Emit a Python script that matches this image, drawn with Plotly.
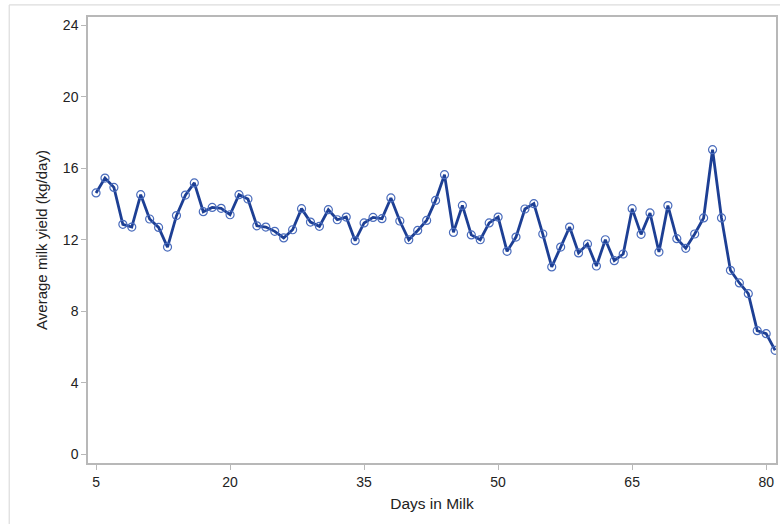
import plotly.graph_objects as go

days = list(range(5, 82))
milk_yield = [
    14.62, 15.45, 14.93, 12.86, 12.71, 14.52, 13.16, 12.69, 11.59, 13.35,
    14.50, 15.18, 13.57, 13.81, 13.76, 13.40, 14.52, 14.28, 12.78, 12.71,
    12.47, 12.10, 12.56, 13.74, 12.99, 12.75, 13.68, 13.12, 13.27, 11.95,
    12.94, 13.25, 13.18, 14.34, 13.05, 12.00, 12.52, 13.08, 14.20, 15.64,
    12.41, 13.92, 12.27, 12.00, 12.94, 13.27, 11.35, 12.15, 13.72, 14.02,
    12.32, 10.48, 11.59, 12.71, 11.26, 11.76, 10.53, 12.00, 10.83, 11.20,
    13.74, 12.30, 13.50, 11.31, 13.91, 12.06, 11.52, 12.32, 13.22, 17.04,
    13.22, 10.29, 9.58, 8.98, 6.91, 6.74, 5.81,
]
x_ticks = [5, 20, 35, 50, 65, 80]
y_ticks = [0, 4, 8, 12, 16, 20, 24]

LINE = "#1d3f94"
AXIS = "#b8b8b8"
FONT = "Liberation Sans, Arial, sans-serif"

fig = go.Figure()
fig.add_trace(go.Scatter(
    x=days, y=milk_yield, mode="lines+markers",
    line=dict(color=LINE, width=2.8),
    marker=dict(symbol="circle-open", size=8, color="#4a6cbc", line=dict(width=1.2)),
    showlegend=False,
))

fig.update_layout(
    width=780, height=524,
    margin=dict(l=88, r=2, t=17, b=61),
    paper_bgcolor="white", plot_bgcolor="white",
    font=dict(family=FONT, size=14, color="#222"),
    shapes=[
        dict(type="line", xref="paper", yref="paper", x0=-0.1145, x1=1.01, y0=1.027, y1=1.027,
             line=dict(color="#dcdcdc", width=1.2)),
        dict(type="line", xref="paper", yref="paper", x0=-0.1145, x1=-0.1145, y0=1.027, y1=-0.15,
             line=dict(color="#dcdcdc", width=1.2)),
    ],
)
fig.update_xaxes(
    range=[4.1, 81.1], tickvals=x_ticks, ticks="outside", ticklen=5, tickcolor=AXIS,
    showline=True, linecolor=AXIS, linewidth=1.5, mirror=True, showgrid=False, zeroline=False,
    title=dict(text="Days in Milk", font=dict(size=15.5), standoff=10),
    tickfont=dict(size=14),
)
fig.update_yaxes(
    range=[-0.5, 24.47], tickvals=y_ticks, ticks="outside", ticklen=5, tickcolor=AXIS,
    showline=True, linecolor=AXIS, linewidth=1.5, mirror=True, showgrid=False, zeroline=False,
    title=dict(text="Average milk yield (kg/day)", font=dict(size=15), standoff=12),
    tickfont=dict(size=14),
)

fig.write_html("out.html")
